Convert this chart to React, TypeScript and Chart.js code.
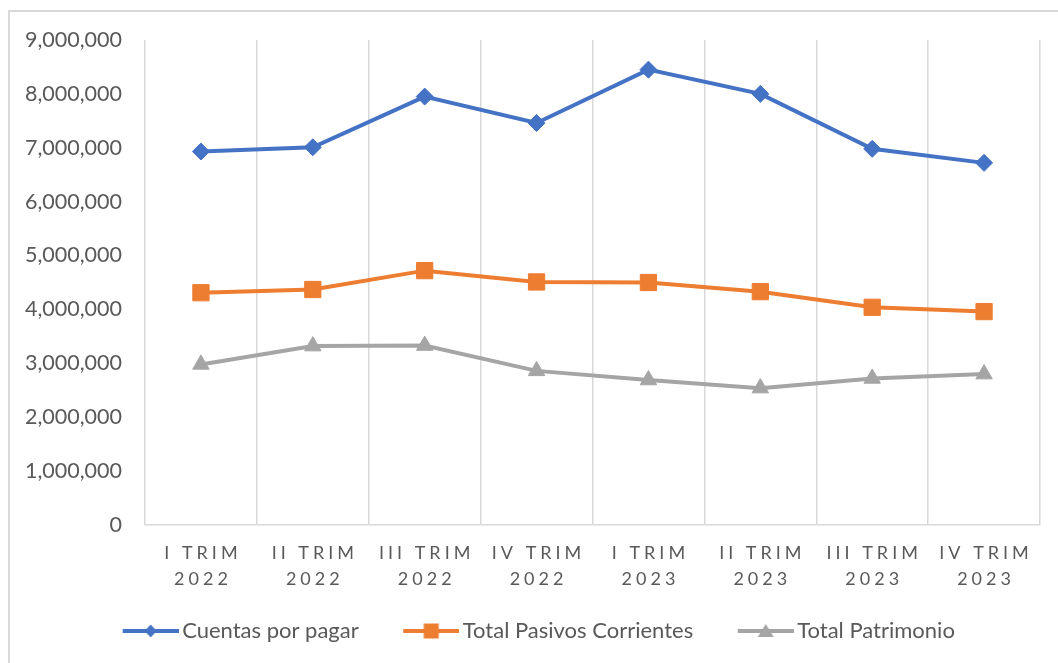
import React, { useEffect, useRef } from 'react';
import { Chart, registerables } from 'chart.js';

Chart.register(...registerables);

const quarters = ['I TRIM', 'II TRIM', 'III TRIM', 'IV TRIM', 'I TRIM', 'II TRIM', 'III TRIM', 'IV TRIM'];
const years = ['2022', '2022', '2022', '2022', '2023', '2023', '2023', '2023'];
const cuentasPorPagar = [6930000, 7010000, 7950000, 7460000, 8450000, 8000000, 6980000, 6720000];
const totalPasivosCorrientes = [4310000, 4370000, 4720000, 4510000, 4500000, 4330000, 4040000, 3960000];
const totalPatrimonio = [2980000, 3320000, 3330000, 2860000, 2690000, 2540000, 2720000, 2800000];
const seriesNames = ['Cuentas por pagar', 'Total Pasivos Corrientes', 'Total Patrimonio'];
const yMin = 0;
const yMax = 9000000;
const yStep = 1000000;

const BLUE = '#4472C4';
const ORANGE = '#ED7D31';
const GRAY = '#A5A5A5';
const TEXT = '#595959';
const GRID = '#d9d9d9';
const FONT = 'Lato, "Open Sans", sans-serif';

const LEG_BOX = 68;
const LEG_PAD = 25;
const ICON_W = 83;

function legendIcon(color: string, shape: string): HTMLCanvasElement {
  const c = document.createElement('canvas');
  c.width = ICON_W;
  c.height = 22;
  const g = c.getContext('2d')!;
  g.strokeStyle = color;
  g.lineWidth = 4;
  g.beginPath();
  g.moveTo(ICON_W - 56, 11);
  g.lineTo(ICON_W, 11);
  g.stroke();
  g.fillStyle = color;
  const cx = ICON_W - 28;
  const cy = 11;
  g.beginPath();
  if (shape === 'diamond') {
    g.moveTo(cx, cy - 6.5);
    g.lineTo(cx + 6, cy);
    g.lineTo(cx, cy + 6.5);
    g.lineTo(cx - 6, cy);
  } else if (shape === 'square') {
    g.rect(cx - 7.5, cy - 7.5, 15, 15);
  } else {
    g.moveTo(cx, cy - 7);
    g.lineTo(cx + 8, cy + 6);
    g.lineTo(cx - 8, cy + 6);
  }
  g.closePath();
  g.fill();
  return c;
}

const labelPlugin = {
  id: 'labelTweaks',
  beforeDraw(chart: any) {
    const x = chart.scales.x;
    if (x && !x.__patched) {
      const orig = x.drawLabels.bind(x);
      x.drawLabels = (area: any) => {
        const ctx = chart.ctx;
        ctx.save();
        (ctx as any).letterSpacing = '4px';
        ctx.translate(2, 0);
        orig(area);
        ctx.restore();
      };
      x.__patched = true;
    }
    const y = chart.scales.y;
    if (y && !y.__patched) {
      const origY = y.drawLabels.bind(y);
      y.drawLabels = (area: any) => {
        const ctx = chart.ctx;
        ctx.save();
        ctx.translate(-23, 0);
        origY(area);
        ctx.restore();
      };
      y.__patched = true;
    }
  },
};

export default function App() {
  const ref = useRef<HTMLCanvasElement>(null);
  useEffect(() => {
    if (!ref.current) return;
    const icons = [legendIcon(BLUE, 'diamond'), legendIcon(ORANGE, 'square'), legendIcon(GRAY, 'triangle')];
    const labels = quarters.map((q, i) => [q, years[i]]);
    const chart = new Chart(ref.current, {
      type: 'line',
      data: {
        labels,
        datasets: [
          {
            label: seriesNames[0],
            data: cuentasPorPagar,
            borderColor: BLUE,
            backgroundColor: BLUE,
            borderWidth: 4,
            pointStyle: 'rectRot',
            pointRadius: 8.5,
            pointBorderWidth: 1,
            pointBackgroundColor: BLUE,
            pointBorderColor: BLUE,
          },
          {
            label: seriesNames[1],
            data: totalPasivosCorrientes,
            borderColor: ORANGE,
            backgroundColor: ORANGE,
            borderWidth: 4,
            pointStyle: 'rect',
            pointRadius: 11.5,
            pointBorderWidth: 1,
            pointBackgroundColor: ORANGE,
            pointBorderColor: ORANGE,
          },
          {
            label: seriesNames[2],
            data: totalPatrimonio,
            borderColor: GRAY,
            backgroundColor: GRAY,
            borderWidth: 4,
            pointStyle: 'triangle',
            pointRadius: 9.5,
            pointBorderWidth: 1,
            pointBackgroundColor: GRAY,
            pointBorderColor: GRAY,
          },
        ],
      },
      options: {
        responsive: false,
        animation: false,
        devicePixelRatio: 1,
        layout: { padding: { left: 8, right: 18, top: 28, bottom: 11 } },
        plugins: {
          tooltip: { enabled: false },
          legend: {
            position: 'bottom',
            labels: {
              usePointStyle: true,
              pointStyleWidth: LEG_BOX,
              padding: LEG_PAD,
              color: TEXT,
              font: { family: FONT, size: 22 },
              generateLabels: (ch: any) =>
                ch.data.datasets.map((d: any, i: number) => ({
                  text: d.label,
                  fillStyle: d.borderColor,
                  strokeStyle: d.borderColor,
                  lineWidth: 0,
                  pointStyle: icons[i],
                  fontColor: TEXT,
                  hidden: false,
                  datasetIndex: i,
                })),
            },
          },
        },
        scales: {
          x: {
            offset: true,
            grid: { display: true, offset: true, color: GRID, lineWidth: 1.5, drawTicks: false },
            border: { display: true, color: GRID, width: 1.5 },
            ticks: {
              color: TEXT,
              padding: 15,
              maxRotation: 0,
              autoSkip: false,
              font: { family: FONT, size: 18, lineHeight: 26 / 18 },
            },
            afterFit: (s: any) => {
              s.height = 70;
            },
          },
          y: {
            min: yMin,
            max: yMax,
            grid: { display: false, drawTicks: false },
            border: { display: false },
            ticks: {
              stepSize: yStep,
              color: TEXT,
              padding: 0,
              font: { family: FONT, size: 21.5 },
              callback: (v: any) => Number(v).toLocaleString('en-US'),
            },
            afterFit: (s: any) => {
              s.width = 127;
            },
          },
        },
      },
      plugins: [labelPlugin],
    } as any);
    chart.draw();
    return () => chart.destroy();
  }, []);

  return (
    <div
      style={{
        position: 'fixed',
        left: 8,
        top: 10,
        width: 1060,
        height: 660,
        borderTop: `2px solid ${GRID}`,
        borderLeft: `2px solid ${GRID}`,
        overflow: 'hidden',
        background: '#fff',
      }}
    >
      <canvas ref={ref} width={1048} height={651} style={{ display: 'block' }} />
    </div>
  );
}
